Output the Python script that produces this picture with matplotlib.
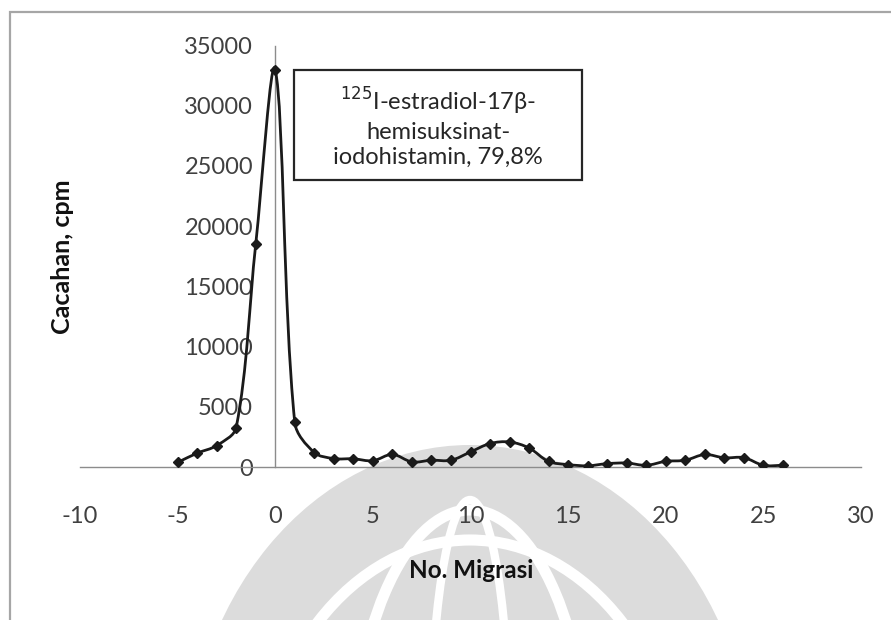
"""Radiochromatogram of 125I-estradiol-17b-hemisuksinat-iodohistamin."""

import matplotlib

matplotlib.use("Agg")
import matplotlib.pyplot as plt
import numpy as np
from matplotlib.patches import Ellipse, PathPatch, Rectangle
from matplotlib.path import Path

# data
migration_no = [-5, -4, -3, -2, -1, 0, 1, 2, 3, 4, 5, 6, 7, 8, 9, 10, 11, 12, 13,
                14, 15, 16, 17, 18, 19, 20, 21, 22, 23, 24, 25, 26]
counts_cpm = [380, 1150, 1780, 3280, 18500, 33000, 3700, 1200, 700, 680, 520, 1050,
              420, 560, 560, 1250, 1950, 2080, 1580, 460, 200, 100, 280, 330, 140,
              470, 560, 1040, 760, 780, 140, 140]
x_ticks = [-10, -5, 0, 5, 10, 15, 20, 25, 30]
y_ticks = [0, 5000, 10000, 15000, 20000, 25000, 30000, 35000]

FONT = ["Lato", "DejaVu Sans"]
plt.rcParams["font.family"] = FONT
plt.rcParams["axes.unicode_minus"] = False

W, H = 891, 620


def smooth_path(ax, xs, ys, tension=1 / 3):
    """Excel-like smoothed line, Bezier control points scaled by segment length."""
    data = np.column_stack([xs, ys]).astype(float)
    pts = ax.transData.transform(data)
    padded = np.vstack([pts[0], pts, pts[-1]])
    verts = [pts[0]]
    codes = [Path.MOVETO]
    for i in range(1, len(padded) - 2):
        p0, p1, p2, p3 = padded[i - 1], padded[i], padded[i + 1], padded[i + 2]
        d01 = np.hypot(*(p1 - p0))
        d12 = np.hypot(*(p2 - p1))
        d23 = np.hypot(*(p3 - p2))
        f1 = tension * d12 / (d01 + d12) if d01 + d12 else 0
        f2 = tension * d12 / (d12 + d23) if d12 + d23 else 0
        verts += [p1 + f1 * (p2 - p0), p2 - f2 * (p3 - p1), p2]
        codes += [Path.CURVE4] * 3
    verts = ax.transData.inverted().transform(np.array(verts))
    return Path(verts, codes)


fig = plt.figure(figsize=(W / 100, H / 100), dpi=100)


def px(x, y):
    return x / W, 1 - y / H


# faint watermark logo in the background (scan artefact)
gray = "#dcdcdc"
wm = [
    Ellipse(px(470, 790), 570 / W, 690 / H, facecolor=gray, edgecolor="none"),
    Ellipse(px(470, 820), 430 / W, 560 / H, facecolor="none", edgecolor="white", lw=8),
    Ellipse(px(470, 790), 240 / W, 560 / H, facecolor="none", edgecolor="white", lw=8),
    Ellipse(px(470, 760), 80 / W, 520 / H, facecolor="none", edgecolor="white", lw=6),
]
for p in wm:
    p.set_transform(fig.transFigure)
    p.set_zorder(-5)
    fig.patches.append(p)

# frame of the chart area
frame = Rectangle(px(10, 700), (W + 20) / W, (700 - 12) / H, transform=fig.transFigure,
                  facecolor="none", edgecolor="#a6a6a6", lw=1.6, zorder=-4)
fig.patches.append(frame)

left, right = 80 / W, 861 / W
bottom, top = 1 - 467 / H, 1 - 45.6 / H
ax = fig.add_axes([left, bottom, right - left, top - bottom])
ax.patch.set_alpha(0)

ax.set_xlim(-10, 30)
ax.set_ylim(0, 35000)
ax.set_xticks(x_ticks)
ax.set_yticks(y_ticks)
ax.set_yticklabels([str(v) for v in y_ticks])
ax.set_xticklabels([str(v) for v in x_ticks])

ax.add_patch(PathPatch(smooth_path(ax, migration_no, counts_cpm), facecolor="none",
                       edgecolor="#1a1a1a", lw=2.0, zorder=3))
ax.plot(migration_no, counts_cpm, linestyle="none", marker="D", markersize=5.5,
        color="#1a1a1a", zorder=4)

for side in ("top", "right"):
    ax.spines[side].set_visible(False)
ax.spines["left"].set_position(("data", 0))
ax.spines["bottom"].set_position(("data", 0))
for side in ("left", "bottom"):
    ax.spines[side].set_color("#8c8c8c")
    ax.spines[side].set_linewidth(1.0)

ax.tick_params(axis="both", length=0, labelsize=17, labelcolor="#404040")
ax.tick_params(axis="x", pad=28)
ax.tick_params(axis="y", pad=16)

fig.text(62 / W, 1 - 257 / H, "Cacahan, cpm", rotation=90, ha="center", va="center",
         fontsize=18, fontweight="bold", color="#111111")
fig.text(471 / W, 1 - 571 / H, "No. Migrasi", ha="center", va="center",
         fontsize=17.5, fontweight="bold", color="#111111")

box = Rectangle(px(294, 180), (582 - 294) / W, (180 - 70) / H, transform=fig.transFigure,
                facecolor="white", edgecolor="#262626", lw=1.6, zorder=5)
fig.patches.append(box)
label = "$^{125}$I-estradiol-17β-\nhemisuksinat-\niodohistamin, 79,8%"
fig.text(438 / W, 1 - 127 / H, label, ha="center", va="center", fontsize=17,
         color="#262626", linespacing=1.25, zorder=6)

fig.savefig("out.png", dpi=100)
